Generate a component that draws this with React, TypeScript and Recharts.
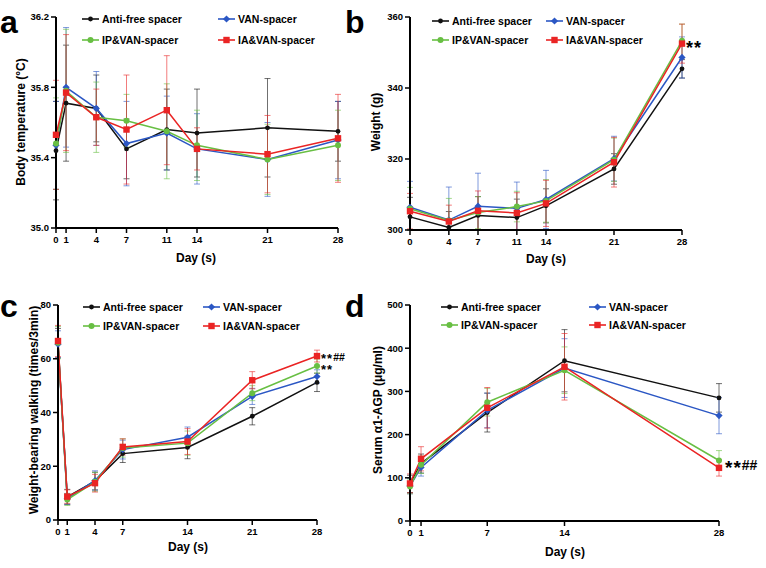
import React from 'react';
import { LineChart, Line, XAxis, YAxis, ErrorBar, Legend, LabelList } from 'recharts';

const FONT = '"Liberation Sans", Arial, Helvetica, sans-serif';
const SERIES = ['Anti-free spacer', 'VAN-spacer', 'IP&VAN-spacer', 'IA&VAN-spacer'];
const COLORS = ['#111111', '#2b57c4', '#68bf43', '#ea2424'];
const SHAPES = ['circle-sm', 'diamond', 'circle', 'square'];

// Panel a: body temperature
const daysTemp = [0, 1, 4, 7, 11, 14, 21, 28];
const tempAnti = [35.44, 35.71, 35.68, 35.45, 35.56, 35.54, 35.57, 35.55];
const tempAntiSd = [0.28, 0.33, 0.19, 0.17, 0.23, 0.25, 0.28, 0.17];
const tempVan = [35.47, 35.8, 35.68, 35.48, 35.54, 35.45, 35.39, 35.5];
const tempVanSd = [0.25, 0.34, 0.21, 0.24, 0.21, 0.2, 0.21, 0.22];
const tempIp = [35.48, 35.78, 35.63, 35.61, 35.55, 35.47, 35.39, 35.47];
const tempIpSd = [0.26, 0.35, 0.2, 0.15, 0.27, 0.2, 0.2, 0.2];
const tempIa = [35.53, 35.77, 35.63, 35.56, 35.67, 35.45, 35.42, 35.51];
const tempIaSd = [0.31, 0.33, 0.16, 0.31, 0.31, 0.12, 0.22, 0.25];
const tempTicks = [35.0, 35.4, 35.8, 36.2];

// Panel b: weight
const daysWeight = [0, 4, 7, 11, 14, 21, 28];
const wAnti = [303.7, 300.7, 304.1, 303.5, 306.8, 317.2, 345.4];
const wAntiSd = [5.5, 4.5, 5.3, 5.2, 4.8, 4.3, 2.6];
const wVan = [306.4, 302.8, 306.7, 306.1, 308.6, 320.1, 348.6];
const wVanSd = [7.3, 9.3, 9.3, 7.4, 8.2, 6.3, 5.8];
const wIp = [306.0, 302.7, 304.9, 306.6, 308.2, 319.8, 353.3];
const wIpSd = [6.0, 6.2, 4.5, 4.3, 6.0, 6.1, 4.7];
const wIa = [305.3, 302.4, 305.4, 304.8, 307.5, 319.1, 352.5];
const wIaSd = [5.0, 4.6, 5.6, 5.7, 6.5, 7.0, 5.5];
const weightTicks = [300, 320, 340, 360];

// Panel c: weight-bearing walking
const daysWalk = [0, 1, 4, 7, 14, 21, 28];
const walkAnti = [65.8, 8.6, 14.5, 24.7, 27.0, 38.6, 51.2];
const walkAntiSd = [5.5, 2.8, 3.3, 3.3, 4.2, 3.2, 3.4];
const walkVan = [65.4, 7.9, 14.7, 26.2, 30.8, 46.0, 53.4];
const walkVanSd = [5.0, 2.0, 3.6, 3.5, 3.8, 3.0, 2.5];
const walkIp = [66.0, 7.6, 14.2, 26.8, 28.6, 47.2, 57.3];
const walkIpSd = [6.0, 2.2, 3.5, 3.4, 4.5, 2.8, 2.6];
const walkIa = [66.6, 8.7, 13.7, 27.2, 29.2, 52.0, 61.0];
const walkIaSd = [5.8, 2.5, 3.3, 3.0, 4.8, 3.2, 2.2];
const walkTicks = [0, 20, 40, 60, 80];

// Panel d: serum α1-AGP
const daysAgp = [0, 1, 7, 14, 28];
const agpAnti = [86, 133, 251, 371, 285];
const agpAntiSd = [20, 22, 45, 72, 33];
const agpVan = [81, 124, 256, 354, 244];
const agpVanSd = [18, 20, 40, 68, 42];
const agpIp = [80, 130, 275, 349, 140];
const agpIpSd = [17, 20, 32, 54, 23];
const agpIa = [87, 144, 262, 357, 123];
const agpIaSd = [22, 28, 47, 77, 19];
const agpTicks = [0, 100, 200, 300, 400, 500];

function buildRows(days: number[], means: number[][], sds: number[][], yMin: number, yMax: number) {
  return days.map((d, i) => {
    const row: any = { day: d };
    means.forEach((m, s) => {
      const sd = sds[s][i];
      row['v' + s] = m[i];
      // error bar, limited to the axis range (the bars are cut at the axes)
      row['e' + s] = [Math.min(sd, m[i] - yMin), Math.min(sd, yMax - m[i])];
    });
    return row;
  });
}

const rowsTemp = buildRows(daysTemp, [tempAnti, tempVan, tempIp, tempIa], [tempAntiSd, tempVanSd, tempIpSd, tempIaSd], 35.0, 36.2);
const rowsWeight = buildRows(daysWeight, [wAnti, wVan, wIp, wIa], [wAntiSd, wVanSd, wIpSd, wIaSd], 300, 360);
const rowsWalk = buildRows(daysWalk, [walkAnti, walkVan, walkIp, walkIa], [walkAntiSd, walkVanSd, walkIpSd, walkIaSd], 0, 80);
const rowsAgp = buildRows(daysAgp, [agpAnti, agpVan, agpIp, agpIa], [agpAntiSd, agpVanSd, agpIpSd, agpIaSd], 0, 500);

function Marker({ shape, color, cx, cy }: { shape: string; color: string; cx: number; cy: number }) {
  if (shape === 'square') return <rect x={cx - 3.2} y={cy - 3.2} width={6.4} height={6.4} fill={color} />;
  if (shape === 'diamond')
    return <polygon points={`${cx},${cy - 3.6} ${cx + 3.6},${cy} ${cx},${cy + 3.6} ${cx - 3.6},${cy}`} fill={color} />;
  if (shape === 'circle') return <circle cx={cx} cy={cy} r={3} fill={color} />;
  return <circle cx={cx} cy={cy} r={2.4} fill={color} />;
}

function LegendBox({ gap, rowGap }: { gap: number; rowGap: number }) {
  return (
    <div style={{ position: 'relative', width: gap + 130, height: rowGap + 14, fontFamily: FONT }}>
      {SERIES.map((name, i) => {
        const col = i % 2;
        const row = Math.floor(i / 2);
        return (
          <div
            key={name}
            style={{
              position: 'absolute',
              left: col * gap,
              top: row * rowGap,
              height: 14,
              display: 'flex',
              alignItems: 'center',
              whiteSpace: 'nowrap',
            }}
          >
            <svg width={17} height={14} style={{ display: 'block' }}>
              <line x1={0} y1={7} x2={17} y2={7} stroke={COLORS[i]} strokeWidth={1.6} />
              <Marker shape={SHAPES[i]} color={COLORS[i]} cx={8.5} cy={7} />
            </svg>
            <span style={{ marginLeft: 3, fontSize: 10.5, fontWeight: 700, color: '#000', lineHeight: '14px' }}>{name}</span>
          </div>
        );
      })}
    </div>
  );
}

type Annot = { series: number; stars: string; hashes: string; dx: number; dy: number; starSize: number; hashSize: number };

const makeDot = (i: number) => (props: any) => {
  const { cx, cy, index } = props;
  if (cx == null || cy == null) return <g key={`d${i}-${index}`} />;
  return (
    <g key={`d${i}-${index}`}>
      <Marker shape={SHAPES[i]} color={COLORS[i]} cx={cx} cy={cy} />
    </g>
  );
};

// significance marks: stars are drawn lower (the asterisk glyph sits high), hashes on a normal baseline
const makeAnnot = (a: Annot, last: number) => (props: any) => {
  if (props.index !== last) return null;
  const x = props.x ?? props.viewBox?.x;
  const y = props.y ?? props.viewBox?.y;
  if (x == null || y == null) return null;
  const starBase = y + a.dy + a.starSize * 0.6;
  const hashBase = y + a.dy + a.hashSize * 0.5;
  return (
    <text x={x + a.dx} y={starBase} fontWeight={700} fontFamily={FONT} fill="#000" fontSize={a.starSize}>
      <tspan letterSpacing={1}>{a.stars}</tspan>
      {a.hashes ? (
        <tspan fontSize={a.hashSize} y={hashBase}>
          {a.hashes}
        </tspan>
      ) : null}
    </text>
  );
};

type PanelProps = {
  left: number;
  top: number;
  margin: { top: number; right: number; bottom: number; left: number };
  yWidth: number;
  rows: any[];
  xTicks: number[];
  yDomain: [number, number];
  yTicks: number[];
  yFmt?: (v: number) => string;
  legend: { x: number; y: number; gap: number; rowGap: number };
  annots: Annot[];
};

function Panel(p: PanelProps) {
  const W = 383;
  const H = 284;
  const last = p.rows.length - 1;
  const tickStyle = { fill: '#000', fontSize: 9.5, fontWeight: 700, fontFamily: FONT };
  return (
    <div style={{ position: 'absolute', left: p.left, top: p.top, width: W, height: H }}>
      <LineChart width={W} height={H} data={p.rows} margin={p.margin}>
        <XAxis
          type="number"
          dataKey="day"
          domain={[0, 28]}
          ticks={p.xTicks}
          interval={0}
          height={30}
          tickSize={5}
          tickMargin={3}
          axisLine={{ stroke: '#000', strokeWidth: 2 }}
          tickLine={{ stroke: '#000', strokeWidth: 1.5 }}
          tick={tickStyle}
        />
        <YAxis
          type="number"
          domain={p.yDomain}
          ticks={p.yTicks}
          interval={0}
          width={p.yWidth}
          tickSize={5}
          tickMargin={2}
          allowDataOverflow
          tickFormatter={p.yFmt}
          axisLine={{ stroke: '#000', strokeWidth: 2 }}
          tickLine={{ stroke: '#000', strokeWidth: 1.5 }}
          tick={tickStyle}
        />
        <Legend
          layout="vertical"
          verticalAlign="middle"
          align="center"
          wrapperStyle={{ left: p.legend.x, top: p.legend.y, width: p.legend.gap + 130, height: p.legend.rowGap + 14 }}
          content={() => <LegendBox gap={p.legend.gap} rowGap={p.legend.rowGap} />}
        />
        {[0, 1, 2, 3].map((i) => {
          const ann = p.annots.filter((a) => a.series === i);
          return (
            <Line
              key={i}
              type="linear"
              dataKey={'v' + i}
              name={SERIES[i]}
              stroke={COLORS[i]}
              strokeWidth={1.5}
              isAnimationActive={false}
              dot={makeDot(i)}
              activeDot={false}
            >
              <ErrorBar dataKey={'e' + i} direction="y" width={3} stroke={COLORS[i]} strokeWidth={1} strokeOpacity={0.6} />
              {ann.map((a, k) => (
                <LabelList key={k} dataKey={'v' + i} content={makeAnnot(a, last)} />
              ))}
            </Line>
          );
        })}
      </LineChart>
    </div>
  );
}

function YTitle({ x, y, text }: { x: number; y: number; text: string }) {
  return (
    <div
      style={{
        position: 'absolute',
        left: x,
        top: y,
        transform: 'translate(-50%, -50%) rotate(-90deg)',
        whiteSpace: 'nowrap',
        fontSize: 12,
        fontWeight: 700,
        fontFamily: FONT,
        color: '#000',
        lineHeight: '14px',
      }}
    >
      {text}
    </div>
  );
}

function XTitle({ x, y, text }: { x: number; y: number; text: string }) {
  return (
    <div
      style={{
        position: 'absolute',
        left: x,
        top: y,
        transform: 'translate(-50%, -50%)',
        whiteSpace: 'nowrap',
        fontSize: 12,
        fontWeight: 700,
        fontFamily: FONT,
        color: '#000',
        lineHeight: '14px',
      }}
    >
      {text}
    </div>
  );
}

function Letter({ x, y, text }: { x: number; y: number; text: string }) {
  return (
    <div
      style={{
        position: 'absolute',
        left: x,
        top: y,
        fontSize: 32,
        fontWeight: 700,
        fontFamily: FONT,
        color: '#000',
        lineHeight: '32px',
      }}
    >
      {text}
    </div>
  );
}

export default function App() {
  return (
    <div style={{ position: 'absolute', left: 0, top: 0, width: 766, height: 568, background: '#fff', fontFamily: FONT }}>
      <Panel
        left={0}
        top={0}
        margin={{ top: 17, right: 45, left: 6, bottom: 26 }}
        yWidth={50}
        rows={rowsTemp}
        xTicks={daysTemp}
        yDomain={[35.0, 36.2]}
        yTicks={tempTicks}
        yFmt={(v: number) => v.toFixed(1)}
        legend={{ x: 82, y: 12, gap: 136, rowGap: 21 }}
        annots={[]}
      />
      <Panel
        left={383}
        top={0}
        margin={{ top: 17, right: 84, left: 0, bottom: 24 }}
        yWidth={27}
        rows={rowsWeight}
        xTicks={daysWeight}
        yDomain={[300, 360]}
        yTicks={weightTicks}
        legend={{ x: 49, y: 14, gap: 114, rowGap: 19 }}
        annots={[{ series: 2, stars: '**', hashes: '', dx: 4, dy: 2, starSize: 18, hashSize: 14 }]}
      />
      <Panel
        left={0}
        top={284}
        margin={{ top: 21, right: 66, left: 8, bottom: 18 }}
        yWidth={50}
        rows={rowsWalk}
        xTicks={daysWalk}
        yDomain={[0, 80]}
        yTicks={walkTicks}
        legend={{ x: 83, y: 16, gap: 120, rowGap: 19 }}
        annots={[
          { series: 3, stars: '**', hashes: '##', dx: 4, dy: -0.5, starSize: 13, hashSize: 10.5 },
          { series: 2, stars: '**', hashes: '', dx: 4, dy: 0.5, starSize: 13, hashSize: 10.5 },
        ]}
      />
      <Panel
        left={383}
        top={284}
        margin={{ top: 21, right: 47, left: 0, bottom: 17 }}
        yWidth={27}
        rows={rowsAgp}
        xTicks={daysAgp}
        yDomain={[0, 500]}
        yTicks={agpTicks}
        legend={{ x: 58, y: 16, gap: 148, rowGap: 18 }}
        annots={[{ series: 2, stars: '**', hashes: '##', dx: 6, dy: 2, starSize: 19, hashSize: 14 }]}
      />
      <YTitle x={21} y={122} text="Body temperature (°C)" />
      <YTitle x={376} y={122} text="Weight (g)" />
      <YTitle x={34} y={410} text="Weight-bearing walking (times/3min)" />
      <YTitle x={378} y={410} text="Serum α1-AGP (μg/ml)" />
      <XTitle x={196} y={258} text="Day (s)" />
      <XTitle x={546} y={259} text="Day (s)" />
      <XTitle x={188} y={547} text="Day (s)" />
      <XTitle x={565} y={552} text="Day (s)" />
      <Letter x={0} y={6} text="a" />
      <Letter x={345} y={6} text="b" />
      <Letter x={0} y={290} text="c" />
      <Letter x={345} y={290} text="d" />
    </div>
  );
}
